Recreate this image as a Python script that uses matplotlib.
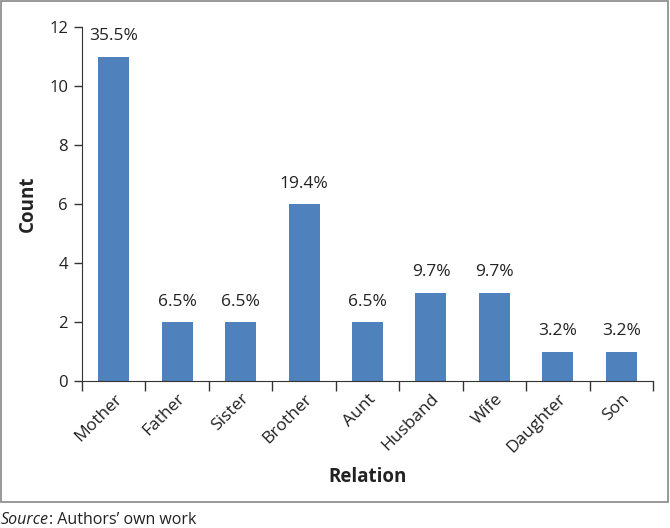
import matplotlib
matplotlib.use("Agg")
import matplotlib.pyplot as plt
from matplotlib.patches import Rectangle
import numpy as np

categories = ["Mother", "Father", "Sister", "Brother", "Aunt", "Husband", "Wife", "Daughter", "Son"]
counts = [11, 2, 2, 6, 2, 3, 3, 1, 1]
labels = ["35.5%", "6.5%", "6.5%", "19.4%", "6.5%", "9.7%", "9.7%", "3.2%", "3.2%"]
yticks = [0, 2, 4, 6, 8, 10, 12]

plt.rcParams['font.family'] = ['Open Sans', 'DejaVu Sans']
TXT = "#222222"

fig = plt.figure(figsize=(6.7, 5.28), dpi=100)
ax = fig.add_axes([82/670, 1-381/528, (653-82)/670, (381-27)/528])

x = np.arange(len(categories))
ax.bar(x, counts, width=0.49, color="#4F81BD", zorder=2)
for xi, c, l in zip(x, counts, labels):
    ax.annotate(l, (xi, c), xytext=(0, 9), textcoords="offset points",
                ha="center", va="bottom", fontsize=12.5, color=TXT)

ax.set_xlim(-0.5, len(categories) - 0.5)
ax.set_ylim(0, 12)
ax.set_yticks(yticks)
ax.set_yticklabels([str(t) for t in yticks], fontsize=12, color=TXT)
ax.set_xticks(x)
ax.set_xticklabels(categories, rotation=45, ha="right", rotation_mode="anchor",
                   fontsize=12.5, color=TXT)
ax.tick_params(axis="x", which="major", length=0, pad=7)
ax.set_xticks(np.arange(-0.5, len(categories)), minor=True)
ax.tick_params(axis="x", which="minor", length=7, width=1, color="#333333")
ax.tick_params(axis="y", length=6, width=1, color="#333333", pad=4)

for s in ["top", "right"]:
    ax.spines[s].set_visible(False)
for s in ["left", "bottom"]:
    ax.spines[s].set_color("#333333")

ax.set_ylabel("Count", fontsize=13.5, fontweight="bold", labelpad=8, color=TXT)
ax.set_xlabel("Relation", fontsize=13.5, fontweight="bold", labelpad=8, color=TXT)

fig.patches.append(Rectangle((1/670, 1-502/528), 667/670, 501/528, transform=fig.transFigure,
                             fill=False, edgecolor="#888888", linewidth=1.2))
t = fig.text(1/670, 1-520/528, "Source", fontsize=11.5, style="italic", va="center", color=TXT)
fig.canvas.draw()
bb = t.get_window_extent()
fig.text(bb.x1 / 670, 1-520/528, ": Authors\u2019 own work", fontsize=11.5, va="center", color=TXT)

fig.savefig("out.png", dpi=100)
